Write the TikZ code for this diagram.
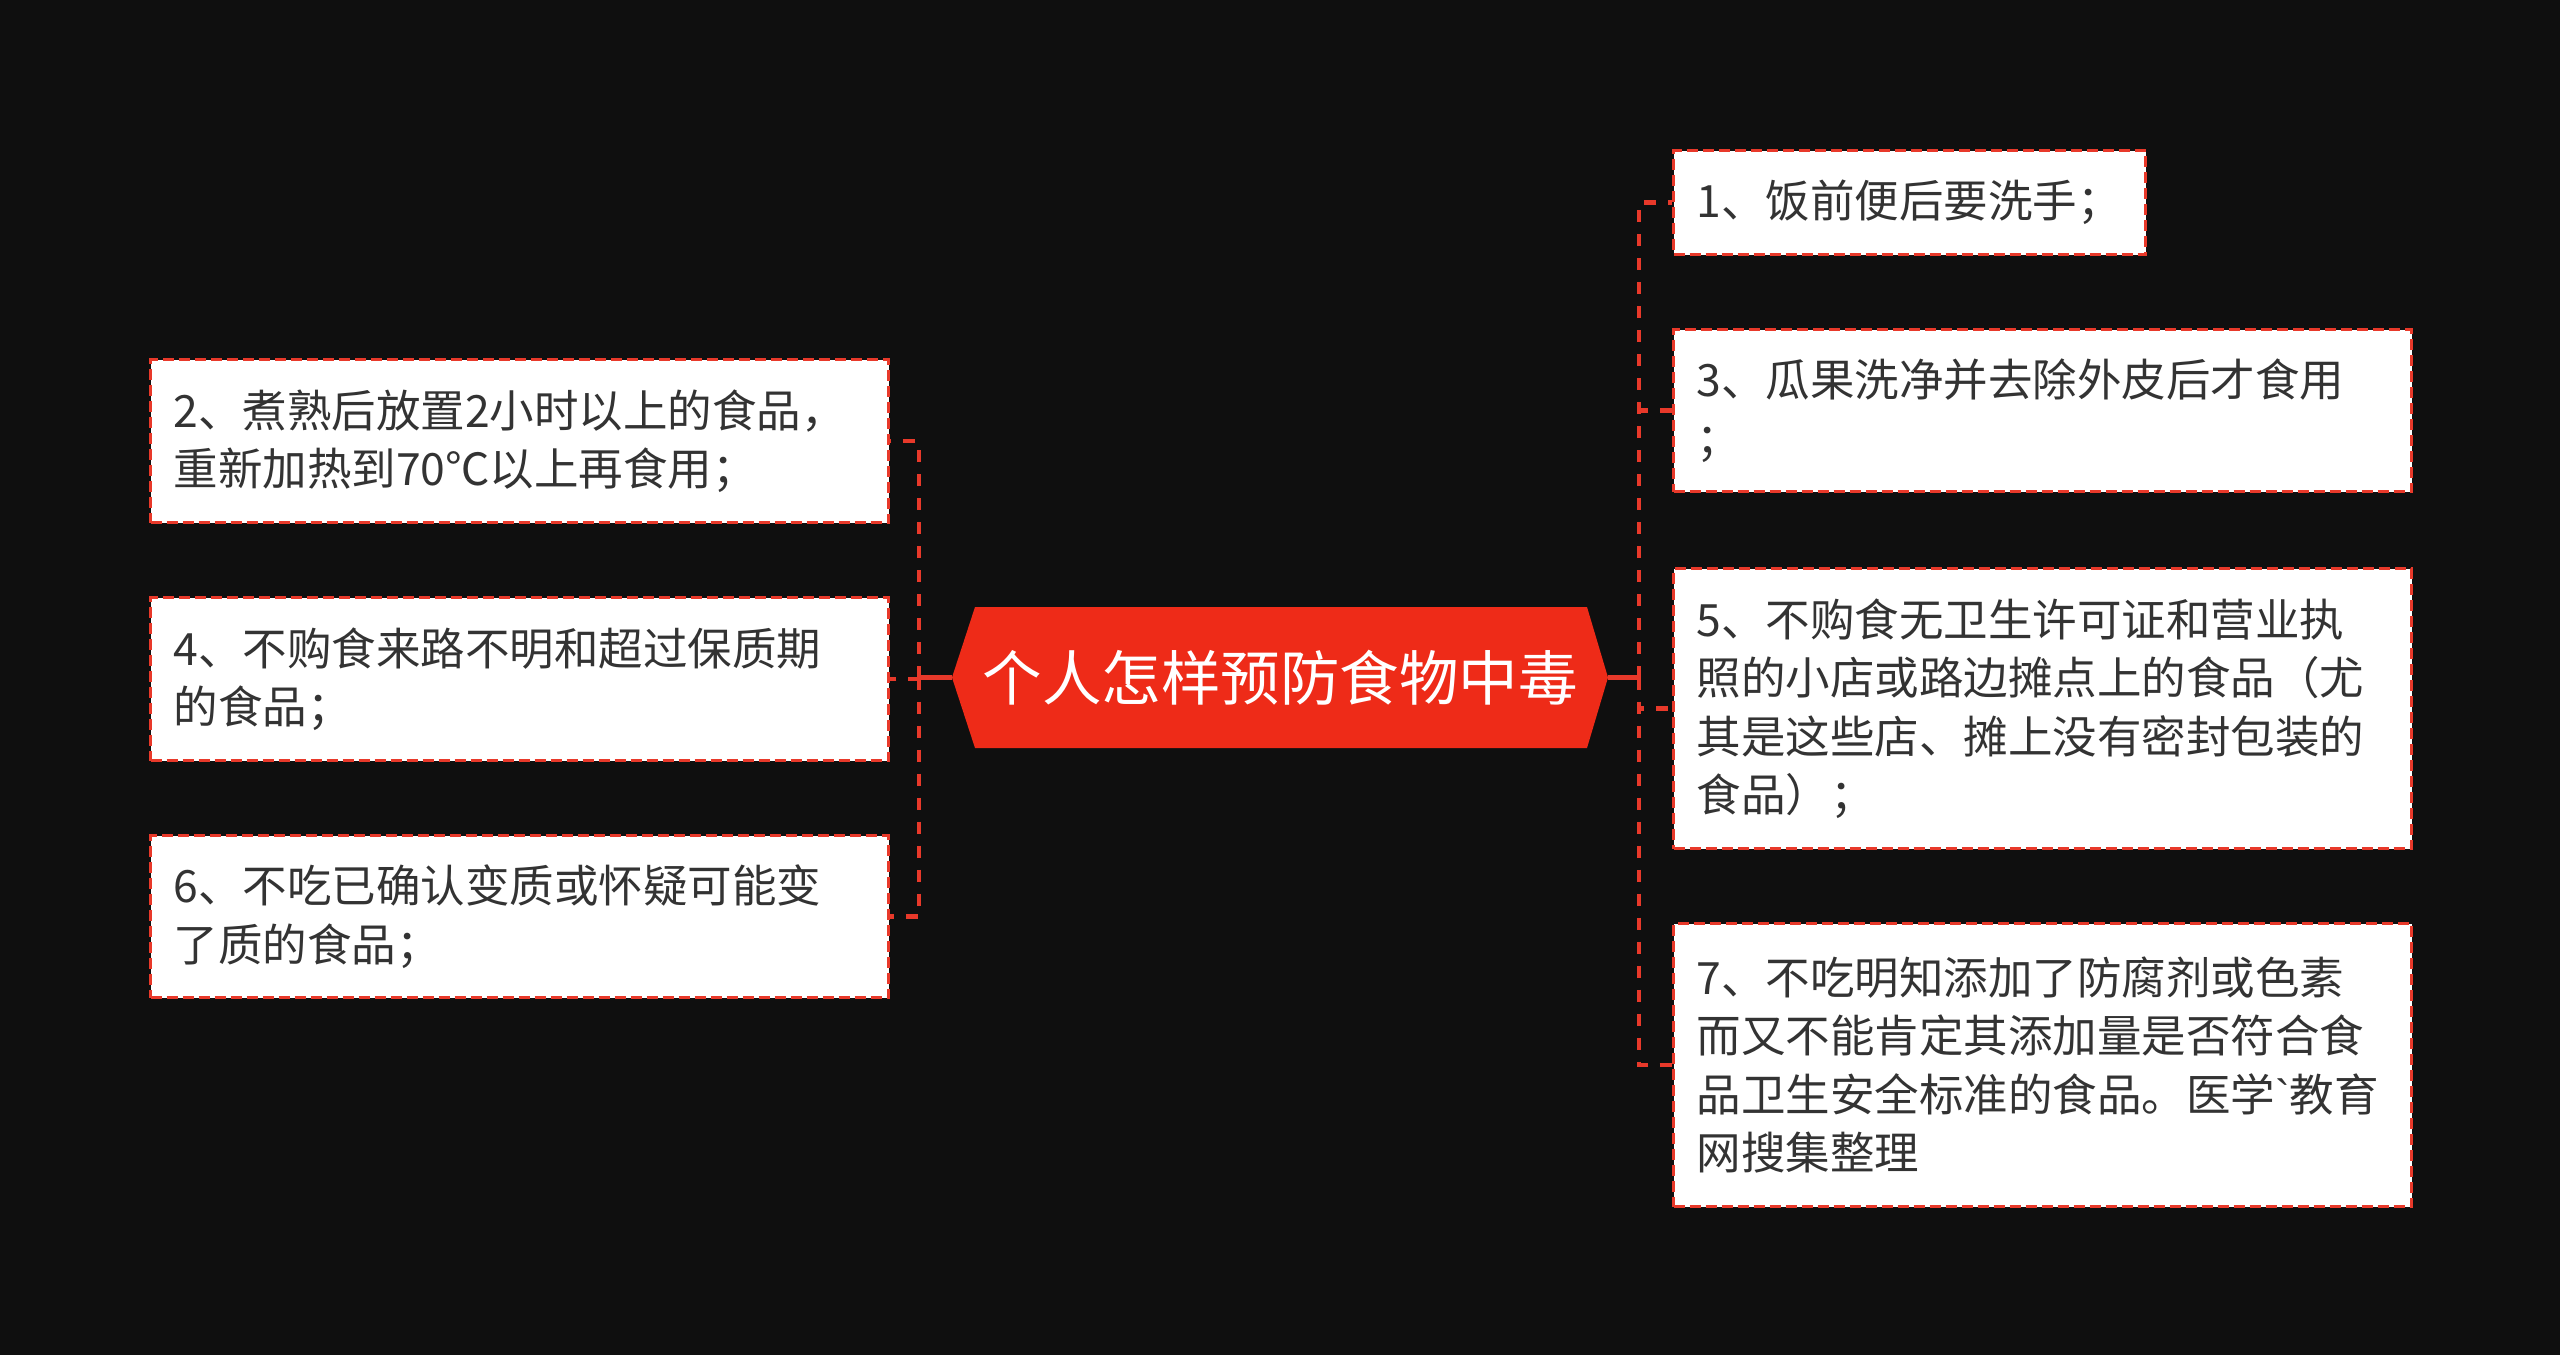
\documentclass[tikz,border=0pt]{standalone}
\usepackage{fontspec}
\setmainfont{Noto Sans CJK SC}
\newfontfamily\nolig{Liberation Sans}[Ligatures=TeXOff]
\definecolor{bgc}{HTML}{0F0F0F}
\definecolor{linered}{HTML}{E8392A}
\definecolor{hexred}{HTML}{EE2B18}
\definecolor{textc}{HTML}{333333}
\begin{document}
\begin{tikzpicture}[x=1pt,y=-1pt,
  leaf/.style={draw=linered, line width=3pt, dash pattern=on 11pt off 5pt,
    fill=white, anchor=north west, inner xsep=23pt, inner ysep=0pt,
    align=left, text=textc, font=\fontsize{44.5}{58.5}\selectfont, text width=#1},
  conn/.style={draw=linered, line width=4.5pt, dash pattern=on 12pt off 12pt},
  stub/.style={draw=linered, line width=4.5pt},
  centertext/.style={text=white, font=\fontsize{59.5}{70}\selectfont,
    minimum width=656pt, minimum height=141pt, inner sep=0pt}]
\fill[bgc] (0,0) rectangle (2560,1355);
\useasboundingbox (0,0) rectangle (2560,1355);

% central topic
\fill[hexred] (975,607) -- (1587,607) -- (1608,677.5) -- (1587,748) -- (975,748) -- (952,677.5) -- cycle;
\node[centertext] (c) at (1280,677.5) {个人怎样预防食物中毒};

% left leaves
\node[leaf=692pt, minimum height=163pt] (b2) at (149,358) {2、煮熟后放置2小时以上的食品，\\重新加热到70℃以上再食用；};
\node[leaf=692pt, minimum height=163pt] (b4) at (149,596) {4、不购食来路不明和超过保质期\\的食品；};
\node[leaf=692pt, minimum height=162pt] (b6) at (149,834) {6、不吃已确认变质或怀疑可能变\\了质的食品；};

% right leaves
\node[leaf=426pt, minimum height=104pt] (b1) at (1672,149) {1、饭前便后要洗手；};
\node[leaf=692pt, minimum height=162pt] (b3) at (1672,328) {3、瓜果洗净并去除外皮后才食用\\；};
\node[leaf=692pt, minimum height=280pt] (b5) at (1672,567) {5、不购食无卫生许可证和营业执\\照的小店或路边摊点上的食品（尤\\其是这些店、摊上没有密封包装的\\食品）；};
\node[leaf=692pt, minimum height=283pt] (b7) at (1672,922) {7、不吃明知添加了防腐剂或色素\\而又不能肯定其添加量是否符合食\\品卫生安全标准的食品。医学{\nolig`}教育\\网搜集整理};

% junctions
\coordinate (lj) at ([xshift=-33pt]c.west);
\coordinate (rj) at ([xshift=31pt]c.east);
\draw[stub] (c.west) -- (lj);
\draw[stub] (c.east) -- (rj);

% connectors
\draw[conn] (lj) |- (b2.east);
\draw[conn] (lj) |- (b4.east);
\draw[conn] (lj) |- (b6.east);
\draw[conn] (rj) |- (b1.west);
\draw[conn] (rj) |- (b3.west);
\draw[conn] (rj) |- (b5.west);
\draw[conn] (rj) |- (b7.west);
\end{tikzpicture}
\end{document}
